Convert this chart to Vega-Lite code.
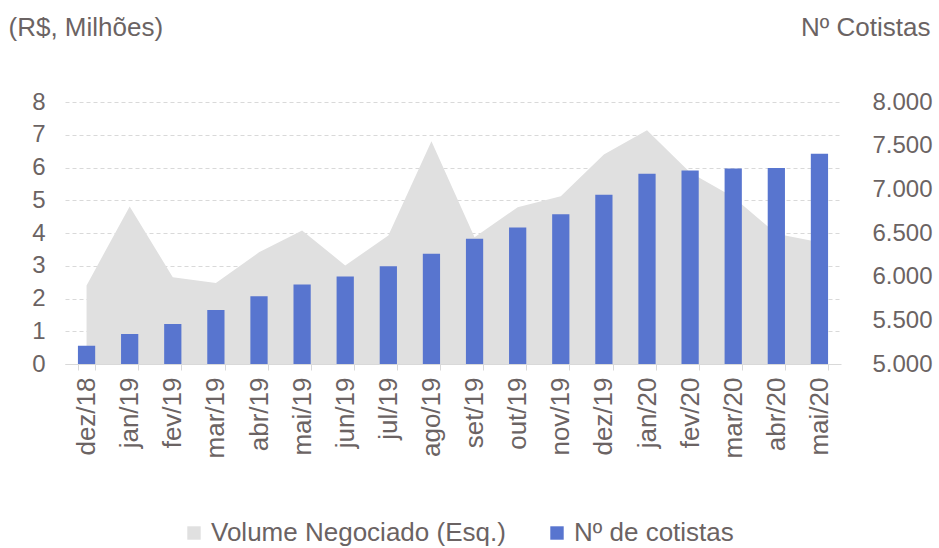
{
  "$schema": "https://vega.github.io/schema/vega-lite/v6.json",
  "width": 776,
  "height": 262,
  "autosize": {"type": "none"},
  "padding": {"left": 65, "top": 102, "right": 98, "bottom": 184},
  "background": "white",
  "config": {
    "font": "Liberation Sans",
    "view": {"stroke": null},
    "axis": {"labelColor": "#6b6363", "titleColor": "#6b6363", "labelFont": "Liberation Sans", "titleFont": "Liberation Sans", "titleFontWeight": "normal"},
    "legend": {"labelColor": "#6b6363", "labelFont": "Liberation Sans"}
  },
  "data": {
    "values": [
      {"mes": "dez/18", "volume": 2.40, "cotistas": 5210},
      {"mes": "jan/19", "volume": 4.81, "cotistas": 5344},
      {"mes": "fev/19", "volume": 2.65, "cotistas": 5459},
      {"mes": "mar/19", "volume": 2.47, "cotistas": 5619},
      {"mes": "abr/19", "volume": 3.41, "cotistas": 5776},
      {"mes": "mai/19", "volume": 4.08, "cotistas": 5909},
      {"mes": "jun/19", "volume": 3.01, "cotistas": 6001},
      {"mes": "jul/19", "volume": 3.92, "cotistas": 6120},
      {"mes": "ago/19", "volume": 6.80, "cotistas": 6261},
      {"mes": "set/19", "volume": 3.87, "cotistas": 6433},
      {"mes": "out/19", "volume": 4.79, "cotistas": 6563},
      {"mes": "nov/19", "volume": 5.12, "cotistas": 6716},
      {"mes": "dez/19", "volume": 6.40, "cotistas": 6937},
      {"mes": "jan/20", "volume": 7.14, "cotistas": 7178},
      {"mes": "fev/20", "volume": 5.85, "cotistas": 7216},
      {"mes": "mar/20", "volume": 5.10, "cotistas": 7239},
      {"mes": "abr/20", "volume": 3.98, "cotistas": 7243},
      {"mes": "mai/20", "volume": 3.72, "cotistas": 7407}
    ]
  },
  "layer": [
    {
      "mark": {"type": "area", "opacity": 1},
      "encoding": {
        "x": {
          "field": "mes", "type": "nominal", "sort": null,
          "scale": {"paddingInner": 0.6, "paddingOuter": 0.3},
          "axis": {"title": null, "labelAngle": -90, "labelFontSize": 26, "labelPadding": 7, "tickBand": "extent", "domainColor": "#d9d9d9", "tickColor": "#d9d9d9", "tickSize": 6, "grid": false}
        },
        "y": {
          "field": "volume", "type": "quantitative",
          "scale": {"domain": [0, 8], "nice": false},
          "axis": {
            "orient": "left", "values": [0, 1, 2, 3, 4, 5, 6, 7, 8], "grid": true, "gridDash": [4, 3], "gridColor": "#d9d9d9",
            "domain": false, "ticks": false, "labelFontSize": 24, "labelPadding": 20,
            "title": "(R$, Milhões)", "titleAngle": 0, "titleAlign": "left", "titleBaseline": "alphabetic", "titleX": -57, "titleY": -67, "titleFontSize": 26
          }
        },
        "color": {
          "datum": "Volume Negociado (Esq.)", "type": "nominal",
          "scale": {"domain": ["Volume Negociado (Esq.)", "Nº de cotistas"], "range": ["#e0e0e0", "#5875cf"]},
          "legend": {"title": null, "orient": "none", "legendX": 116, "legendY": 418, "direction": "horizontal", "symbolType": "square", "symbolSize": 180, "symbolStrokeWidth": 0, "labelFontSize": 26, "labelLimit": 500, "columnPadding": 38, "labelOffset": 4}
        }
      }
    },
    {
      "mark": {"type": "bar", "clip": true},
      "encoding": {
        "x": {"field": "mes", "type": "nominal", "sort": null},
        "y": {
          "field": "cotistas", "type": "quantitative",
          "scale": {"domain": [5000, 8000], "nice": false, "zero": false},
          "axis": {
            "orient": "right", "values": [5000, 5500, 6000, 6500, 7000, 7500, 8000], "grid": false, "domain": false, "ticks": false,
            "labelFontSize": 24, "labelPadding": 31, "labelAlign": "left",
            "labelExpr": "replace(format(datum.value, ',.0f'), ',', '.')",
            "title": "Nº Cotistas", "titleAngle": 0, "titleAlign": "right", "titleBaseline": "alphabetic", "titleX": 89, "titleY": -67, "titleFontSize": 26
          }
        },
        "color": {"datum": "Nº de cotistas", "type": "nominal"}
      }
    }
  ],
  "resolve": {"scale": {"y": "independent"}}
}
